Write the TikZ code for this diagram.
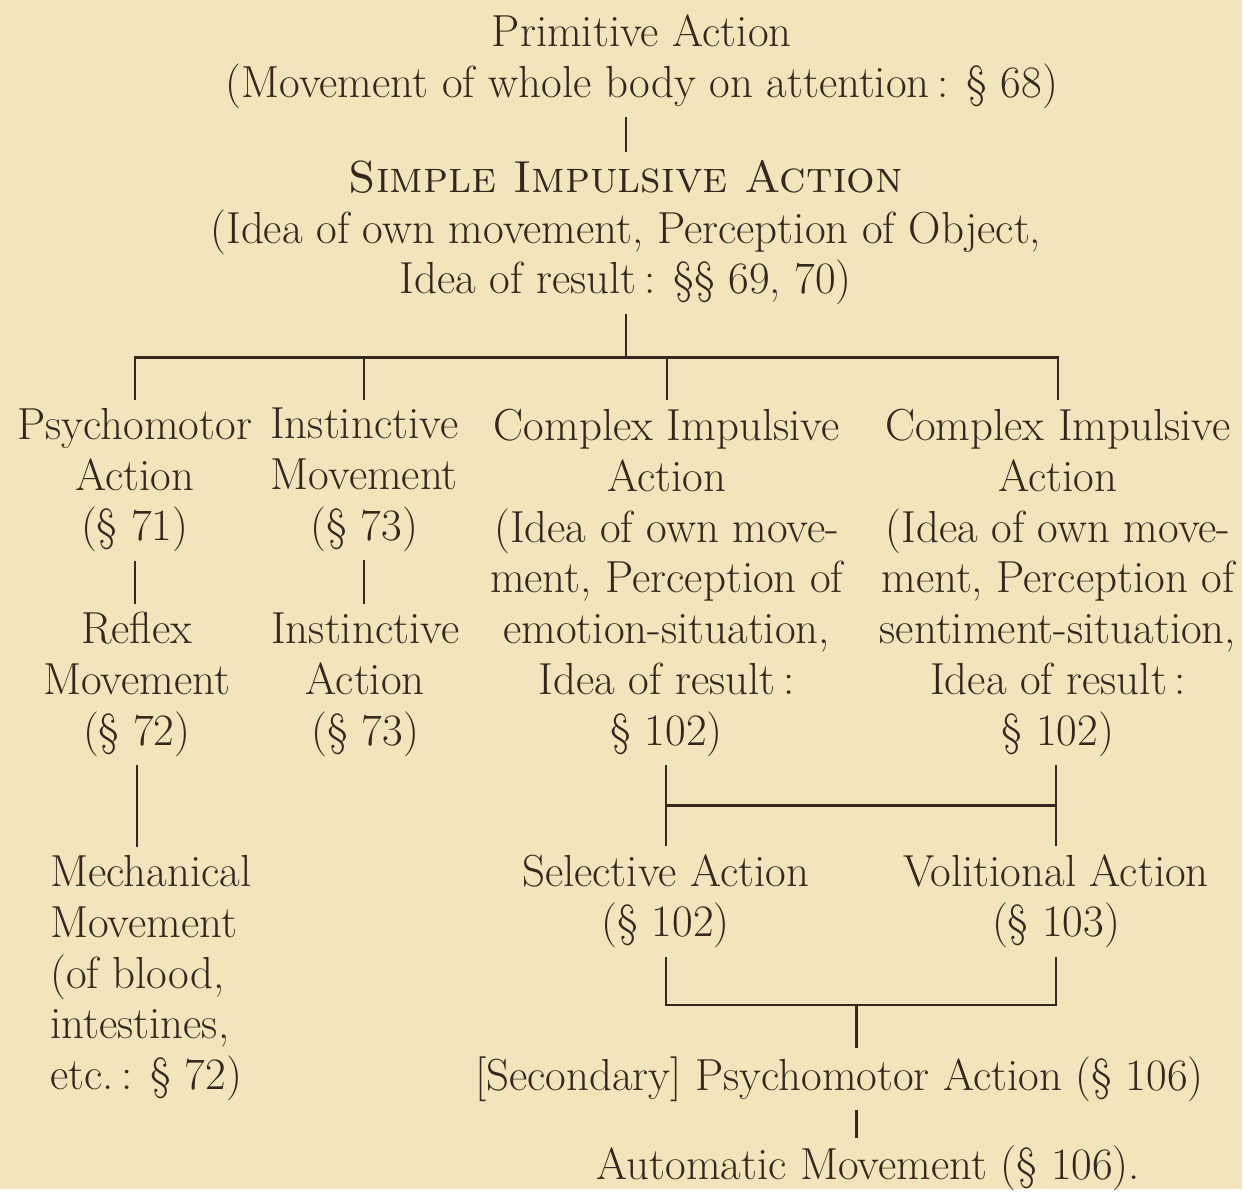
\documentclass[tikz,border=0pt]{standalone}
\usepackage{tikz}
\usetikzlibrary{calc,positioning}
\definecolor{pagebg}{RGB}{243,228,188}
\definecolor{inkbrown}{RGB}{52,40,30}
\tikzset{
  entry/.style={align=center,inner sep=4pt,text=inkbrown,font=\fontsize{22.5}{25.5}\selectfont},
  leftentry/.style={entry,align=left},
  link/.style={draw=inkbrown,line width=1.2pt},
}

\begin{document}
\begin{tikzpicture}[x=0.5pt,y=-0.5pt]
  \fill[pagebg] (0,0) rectangle (1244,1191);
  \node[entry] (prim) at (643,62) {Primitive Action\\(Movement of whole body on attention\,: \S~68)};
  \node[entry] (simple) at (627,233) {\textsc{Simple Impulsive Action}\\(Idea of own movement, Perception of Object,\\Idea of result\,: \S\S~69, 70)};
  \coordinate (bar) at (627,358);
  \node[entry] (psy) at (135,481) {Psychomotor\\Action\\(\S~71)};
  \node[entry] (inst) at (365,481) {Instinctive\\Movement\\(\S~73)};
  \node[entry] (cia) at (668,584) {Complex Impulsive\\Action\\(Idea of own move-\\ment, Perception of\\emotion-situation,\\Idea of result\,:\\\S~102)};
  \node[entry] (cib) at (1060,584) {Complex Impulsive\\Action\\(Idea of own move-\\ment, Perception of\\sentiment-situation,\\Idea of result\,:\\\S~102)};
  \node[entry] (refl) at (137,686) {Reflex\\Movement\\(\S~72)};
  \node[entry] (instb) at (366,686) {Instinctive\\Action\\(\S~73)};
  \node[leftentry,anchor=west] (mech) at (42,980) {Mechanical\\Movement\\(of blood,\\intestines,\\etc.\,: \S~72)};
  \node[entry] (sel) at (667,903) {Selective Action\\(\S~102)};
  \node[entry] (vol) at (1058,903) {Volitional Action\\(\S~103)};
  \coordinate (ujoin) at (858,1007);
  \node[entry] (sec) at (841,1081) {[Secondary] Psychomotor Action (\S~106)};
  \node[entry] (aut) at (870,1171) {Automatic Movement (\S~106).};
  % upper tree
  \draw[link] (prim.south -| simple.north) -- (simple.north);
  \draw[link] (simple.south -| bar) -- (bar);
  \draw[link] (psy.north) -- (psy.north |- bar) -- (cib.north |- bar) -- (cib.north);
  \draw[link] (inst.north) -- (inst.north |- bar);
  \draw[link] (cia.north) -- (cia.north |- bar);
  \draw[link] (psy.south) -- (refl.north -| psy.south);
  \draw[link] (inst.south) -- (instb.north -| inst.south);
  \draw[link] (refl.south) -- (refl.south |- mech.north);
  % lower tree
  \draw[link] (cia.south -| sel.north) -- (sel.north);
  \draw[link] (cib.south -| vol.north) -- (vol.north);
  \draw[link] ($(cia.south -| sel.north)!.5!(sel.north)$) -- ($(cib.south -| vol.north)!.5!(vol.north)$);
  \draw[link] (sel.south) -- (sel.south |- ujoin) -- (vol.south |- ujoin) -- (vol.south);
  \draw[link] (ujoin) -- (ujoin |- sec.north);
  \draw[link] (sec.south -| ujoin) -- (aut.north -| ujoin);
\end{tikzpicture}
\end{document}
